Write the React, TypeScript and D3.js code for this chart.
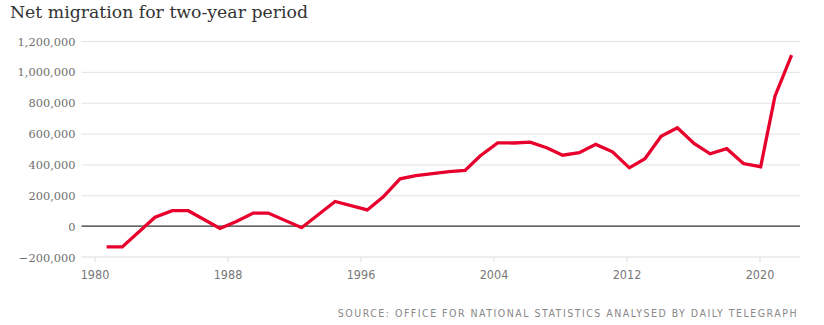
import React from "react";
import * as d3 from "d3";

const years: number[] = [
  1980.7, 1981.64, 1983.61, 1984.65, 1985.61, 1987.52, 1988.5, 1989.52, 1990.42,
  1992.43, 1994.44, 1996.38, 1997.34, 1998.35, 1999.3, 2000.3, 2001.3, 2002.26,
  2003.16, 2004.22, 2005.2, 2006.17, 2007.17, 2008.13, 2009.13, 2010.12, 2011.13,
  2012.14, 2013.08, 2014.05, 2015.03, 2016.03, 2017.0, 2018.0, 2019.0, 2020.04,
  2020.9, 2021.9,
];
const netMigration: number[] = [
  -135000, -135000, 58000, 100000, 100000, -15000, 30000, 85000, 85000,
  -10000, 160000, 105000, 190000, 307000, 328000, 341000, 353000, 361000,
  455000, 540000, 539000, 544000, 508000, 460000, 476000, 530000, 482000,
  378000, 437000, 583000, 638000, 536000, 469000, 502000, 406000, 385000,
  842000, 1108000,
];
const yTicks: number[] = [-200000, 0, 200000, 400000, 600000, 800000, 1000000, 1200000];
const xTicks: number[] = [1980, 1988, 1996, 2004, 2012, 2020];
const title = "Net migration for two-year period";
const source = "SOURCE: OFFICE FOR NATIONAL STATISTICS ANALYSED BY DAILY TELEGRAPH";

export default function App() {
  const W = 824;
  const H = 325;
  const x = d3.scaleLinear().domain([1980, 2020]).range([95, 760]);
  const y = d3.scaleLinear().domain([-200000, 1200000]).range([257, 41]);
  const gridX0 = 81.5;
  const gridX1 = 800;
  const fmt = d3.format(",");
  const data = years.map((yr, i) => ({ yr, v: netMigration[i] }));
  const line = d3
    .line<{ yr: number; v: number }>()
    .x((d) => x(d.yr))
    .y((d) => y(d.v));
  const axisY = y(-200000);

  return (
    <svg
      width={W}
      height={H}
      style={{ position: "absolute", left: 0, top: 0, background: "#fff" }}
    >
      <text
        x={10}
        y={17.5}
        fontFamily="DejaVu Serif"
        fontSize={17.3}
        fill="#333"
      >
        {title}
      </text>
      {yTicks.map((t) => (
        <g key={t}>
          {t !== 0 && t !== -200000 && (
            <line
              x1={gridX0}
              x2={gridX1}
              y1={y(t) + 0.5}
              y2={y(t) + 0.5}
              stroke="#e2e2e2"
              strokeWidth={1}
            />
          )}
          <text
            x={75.5}
            y={y(t) + 4.5}
            textAnchor="end"
            fontFamily="DejaVu Serif"
            fontSize={11.4}
            fill="#6f6f6f"
          >
            {fmt(t)}
          </text>
        </g>
      ))}
      <line
        x1={gridX0}
        x2={gridX1}
        y1={axisY}
        y2={axisY}
        stroke="#ddd"
        strokeWidth={1.2}
      />
      {xTicks.map((t) => (
        <g key={t}>
          <line
            x1={x(t)}
            x2={x(t)}
            y1={axisY}
            y2={axisY + 5}
            stroke="#ddd"
            strokeWidth={1}
          />
          <text
            x={x(t)}
            y={278.5}
            textAnchor="middle"
            fontFamily="DejaVu Sans Condensed, Liberation Sans Narrow, DejaVu Sans"
            fontStretch="condensed"
            fontSize={12.5}
            fill="#777"
          >
            {t}
          </text>
        </g>
      ))}
      <line
        x1={gridX0}
        x2={gridX1}
        y1={y(0)}
        y2={y(0)}
        stroke="#333"
        strokeWidth={1.2}
      />
      <path
        d={line(data) ?? ""}
        fill="none"
        stroke="#e8002d"
        strokeWidth={3.3}
        strokeLinejoin="miter"
        strokeLinecap="butt"
      />
      <text
        x={798}
        y={317}
        textAnchor="end"
        fontFamily="DejaVu Sans Condensed, Liberation Sans Narrow, DejaVu Sans"
        fontStretch="condensed"
        fontSize={10.5}
        letterSpacing={1.5}
        fill="#888"
      >
        {source}
      </text>
    </svg>
  );
}
